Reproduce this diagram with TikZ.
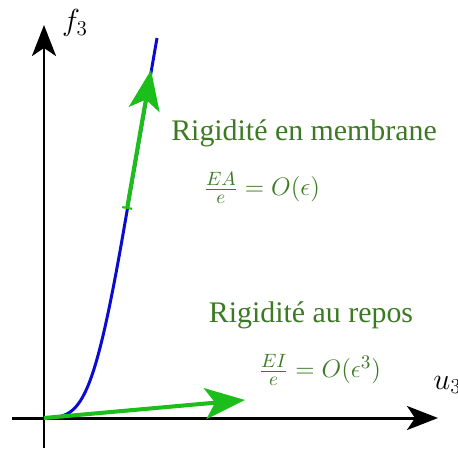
\documentclass[tikz,border=0pt]{standalone}
\usepackage{fontspec}
\setmainfont{Liberation Serif}
\usetikzlibrary{arrows.meta, positioning}
\definecolor{curveBlue}{HTML}{0A0AD2}
\definecolor{arrowGreen}{HTML}{1CBE1C}
\definecolor{textGreen}{HTML}{3B7A22}

\begin{document}
\begin{tikzpicture}[
    axis/.style={line width=1.7pt, -{Stealth[length=0.62cm, width=0.48cm, inset=0.16cm]}},
    force/.style={draw=arrowGreen, line width=2.3pt,
      -{Stealth[length=0.8cm, width=0.62cm, inset=0.2cm]}},
    lbl/.style={font=\fontsize{17}{20}\selectfont, text=textGreen},
    eq/.style={font=\fontsize{15}{18}\selectfont, text=textGreen},
    axlbl/.style={font=\fontsize{17}{20}\selectfont}
  ]
  \useasboundingbox (-0.88,-0.64) rectangle (8.28,8.36);

  % axes
  \coordinate (O) at (0,0);
  \coordinate (xbeg) at (-0.64,0);
  \coordinate (xend) at (7.88,0);
  \coordinate (ybeg) at (0,-0.6);
  \coordinate (yend) at (0,7.86);
  \draw[axis] (xbeg) -- (xend);
  \draw[axis] (ybeg) -- (yend);
  \node[axlbl] (f3) at (0.62,7.9) {$f_3$};
  \node[axlbl, anchor=west, inner sep=0pt] (u3) at (7.78,0.66) {$u_3$};

  % courbe
  \coordinate (knee) at (1.56,3.56);
  \coordinate (ctop) at (2.26,7.6);
  \draw[curveBlue, line width=1.7pt]
    (O) .. controls (0.7,0) and (0.96,0.16) .. (knee) -- (ctop);

  % rigidites
  \coordinate (mbeg) at (1.66,4.18);
  \coordinate (mend) at (2.14,6.96);
  \coordinate (rend) at (4.02,0.36);
  \draw[force, {Bar[width=0.2cm, line width=1.2pt]}-{Stealth[length=0.8cm, width=0.62cm, inset=0.2cm]}]
    (mbeg) -- (mend);
  \draw[force] (O) -- (rend);

  \node[lbl] (memb) at (5.2,5.7) {Rigidité en membrane};
  \node[eq] (membeq) at (4.36,4.6) {$\frac{EA}{e} = O(\epsilon)$};
  \node[lbl] (repos) at (5.34,2.06) {Rigidité au repos};
  \node[eq] (reposeq) at (5.52,0.96) {$\frac{EI}{e} = O(\epsilon^3)$};
\end{tikzpicture}
\end{document}
